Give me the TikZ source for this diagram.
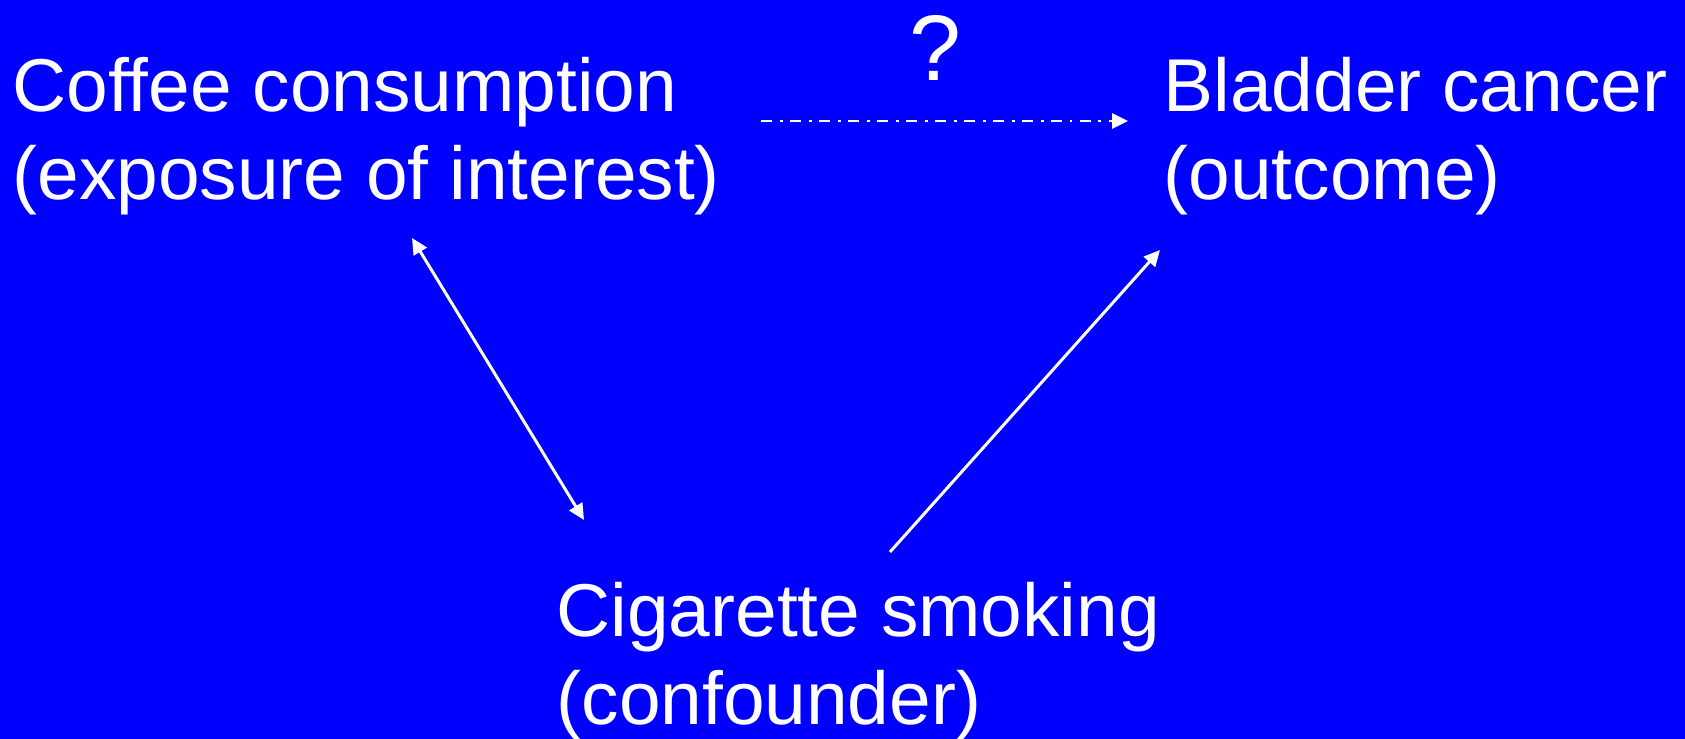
\documentclass[tikz,border=0pt]{standalone}
\usepackage{fontspec}
\setmainfont{Liberation Sans}
\usetikzlibrary{positioning,arrows.meta}

\begin{document}
\begin{tikzpicture}[
	mynode/.style={inner sep=0pt, text=white, align=left, font=\fontsize{21.3}{25}\selectfont},
	myarrow/.style={draw=white, line width=0.85pt, -{Triangle[length=0.16cm,width=0.15cm]}}
	]
	
	\fill[blue] (0,0) rectangle (16.85,-7.39);
	\useasboundingbox (0,0) rectangle (16.85,-7.39);
	
	\node[mynode, anchor=base west] (coffee) at (0.12,-1.99) {Coffee consumption\\(exposure of interest)};
	\node[mynode, anchor=base west] (bladder) at (11.63,-1.99) {Bladder cancer\\(outcome)};
	\node[mynode, anchor=base west] (smoke) at (5.56,-7.24) {Cigarette smoking\\(confounder)};
	\node[mynode, anchor=base, font=\fontsize{26.5}{30}\selectfont] (q) at (9.35,-0.80) {?};
	
	\coordinate (c1) at (7.61,-1.21);
	\coordinate (c2) at (11.28,-1.21);
	\coordinate (c3) at (4.12,-2.38);
	\coordinate (c4) at (5.84,-5.20);
	\coordinate (c5) at (8.90,-5.52);
	\coordinate (c6) at (11.60,-2.50);
	
	\path (c1) edge[myarrow, dash pattern=on 0.11cm off 0.075cm on 0.03cm off 0.075cm] (c2)
	(c3) edge[myarrow, {Triangle[length=0.16cm,width=0.15cm]}-{Triangle[length=0.16cm,width=0.15cm]}] (c4)
	(c5) edge[myarrow] (c6);
	
\end{tikzpicture}
\end{document}
